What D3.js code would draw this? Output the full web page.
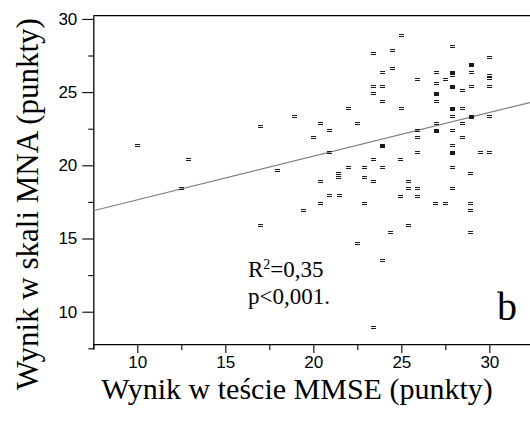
<!DOCTYPE html>
<html>
<head>
<meta charset="utf-8">
<script src="https://cdn.jsdelivr.net/npm/d3@7"></script>
<style>
  html, body { margin: 0; padding: 0; background: #fff; }
  svg { display: block; }
</style>
</head>
<body>
<svg id="chart" width="530" height="421"></svg>
<script>
// MMSE score (x) and MNA score (y) for each patient
const mmse = [
  10.0, 12.9, 12.5, 16.97, 16.97, 17.92, 18.92, 19.43, 19.97, 20.38,
  20.91, 20.91, 20.38, 20.38, 20.91, 21.45, 21.43, 21.43, 21.95, 21.95,
  22.47, 22.47, 22.9, 22.9, 22.9, 23.41, 23.41, 23.41, 23.41, 23.41,
  23.41, 23.92, 23.92, 23.92, 23.92, 23.92, 23.92, 24.36, 24.45, 24.45,
  24.97, 24.97, 24.93, 24.93, 25.4, 25.4, 25.4, 25.91, 25.91, 25.91,
  25.91, 25.91, 25.91, 26.95, 26.95, 26.95, 26.95, 26.95, 26.95, 26.9,
  27.48, 27.48, 27.9, 27.9, 27.9, 27.9, 27.9, 27.9, 27.9, 27.9,
  27.9, 27.9, 27.86, 28.43, 28.43, 28.43, 28.43, 28.94, 28.94, 28.94,
  28.94, 28.9, 28.9, 28.9, 28.9, 29.47, 29.98, 29.98, 29.98, 29.98,
  29.98, 29.98,
  23.92, 26.95, 26.95, 27.9, 27.9, 27.9, 27.9, 28.94, 28.94
];
const mna = [
  21.4, 20.43, 18.43, 22.68, 15.92, 19.68, 23.39, 16.95, 21.91, 22.89,
  22.41, 20.93, 18.91, 17.45, 17.95, 17.95, 19.45, 19.2, 23.89, 19.9,
  22.89, 14.71, 19.9, 19.18, 17.45, 27.65, 25.42, 24.92, 20.43, 18.91,
  8.98, 26.39, 25.42, 24.41, 21.39, 19.9, 13.5, 15.42, 27.88, 26.65,
  28.9, 23.89, 20.43, 17.92, 18.93, 18.43, 15.92, 25.9, 22.41, 21.91,
  20.93, 18.43, 17.92, 26.39, 25.64, 24.92, 24.41, 22.89, 22.41, 17.45,
  25.9, 17.45, 28.15, 26.39, 26.17, 25.42, 23.89, 23.39, 22.41, 21.39,
  20.93, 19.9, 18.43, 25.14, 23.89, 22.89, 21.91, 26.9, 26.39, 25.42,
  23.39, 19.45, 17.45, 16.95, 15.42, 20.93, 27.38, 26.2, 25.95, 25.42,
  23.39, 20.93,
  21.32, 24.85, 22.34, 26.32, 25.35, 23.82, 20.86, 26.83, 23.32
];
// Regression line: MNA = intercept + slope * MMSE
const regIntercept = 14.66;
const regSlope = 0.298;

const xMajor = [10, 15, 20, 25, 30];
const xMinor = [7.5, 12.5, 17.5, 22.5, 27.5];
const yMajor = [10, 15, 20, 25, 30];
const yMinor = [7.5, 12.5, 17.5, 22.5, 27.5];

const xDomain = [7.5, 32.31];
const yDomain = [7.5, 30.22];
const xAxisAt = 7.79;

const svg = d3.select("#chart");
const x = d3.scaleLinear().domain(xDomain).range([93.3, 530]);
const y = d3.scaleLinear().domain(yDomain).range([348.3, 15.7]);

const tickFont = "'Liberation Sans', Arial, sans-serif";
const serif = "'Liberation Serif', 'Times New Roman', serif";

// top frame line
svg.append("line")
  .attr("x1", x(xDomain[0])).attr("x2", x(xDomain[1]))
  .attr("y1", y(yDomain[1])).attr("y2", y(yDomain[1]))
  .attr("stroke", "#000").attr("stroke-width", 1.3);

// Y axis
const gy = svg.append("g").attr("transform", `translate(${x(xDomain[0])},0)`);
gy.call(d3.axisLeft(y).tickValues(yMajor).tickSize(11).tickSizeOuter(0).tickPadding(5).tickFormat(d3.format("d")));
gy.append("g").call(d3.axisLeft(y).tickValues(yMinor).tickSize(5).tickSizeOuter(0).tickFormat(""))
  .select(".domain").remove();

// X axis
const gx = svg.append("g").attr("transform", `translate(0,${y(xAxisAt)})`);
gx.call(d3.axisBottom(x).tickValues(xMajor).tickSize(9).tickSizeOuter(0).tickPadding(3).tickFormat(d3.format("d")));
gx.append("g").call(d3.axisBottom(x).tickValues(xMinor).tickSize(6).tickSizeOuter(0).tickFormat(""))
  .select(".domain").remove();

svg.selectAll(".domain").attr("stroke-width", 1.3);
svg.selectAll(".tick line").attr("stroke-width", 1.1);
svg.selectAll(".tick text").style("font-family", tickFont).style("font-size", "17px").attr("fill", "#000");

// regression line
const reg = d3.line().x(d => x(d)).y(d => y(regIntercept + regSlope * d));
svg.append("path")
  .attr("d", reg(xDomain))
  .attr("fill", "none").attr("stroke", "#808080").attr("stroke-width", 1.2);

// points as small "=" markers
const pts = mmse.map((v, i) => ({ x: v, y: mna[i] }));
svg.append("g").selectAll("path").data(pts).join("path")
  .attr("d", d => {
    const px = Math.round(x(d.x)), py = Math.round(y(d.y));
    return `M${px - 2.5},${py - 0.5}h5M${px - 2.5},${py + 1.5}h5`;
  })
  .attr("stroke", "#1a1a1a").attr("stroke-width", 1).attr("fill", "none")
  .attr("shape-rendering", "crispEdges");

// annotation
const ann = svg.append("text").attr("x", 248).attr("y", 277)
  .style("font-family", serif).style("font-size", "23px");
ann.append("tspan").text("R");
ann.append("tspan").text("2").style("font-size", "14px").attr("dy", -8);
ann.append("tspan").text("=0,35").attr("dy", 8);
svg.append("text").attr("x", 248).attr("y", 304)
  .style("font-family", serif).style("font-size", "23px").text("p<0,001.");
svg.append("text").attr("x", 497).attr("y", 320)
  .style("font-family", serif).style("font-size", "40px").text("b");

// axis titles
svg.append("text").attr("x", 297).attr("y", 399).attr("text-anchor", "middle")
  .style("font-family", serif).style("font-size", "30px").text("Wynik w teście MMSE (punkty)");
svg.append("text").attr("transform", "translate(38,204) rotate(-90)").attr("text-anchor", "middle")
  .style("font-family", serif).style("font-size", "31px").text("Wynik w skali MNA (punkty)");
</script>
</body>
</html>
